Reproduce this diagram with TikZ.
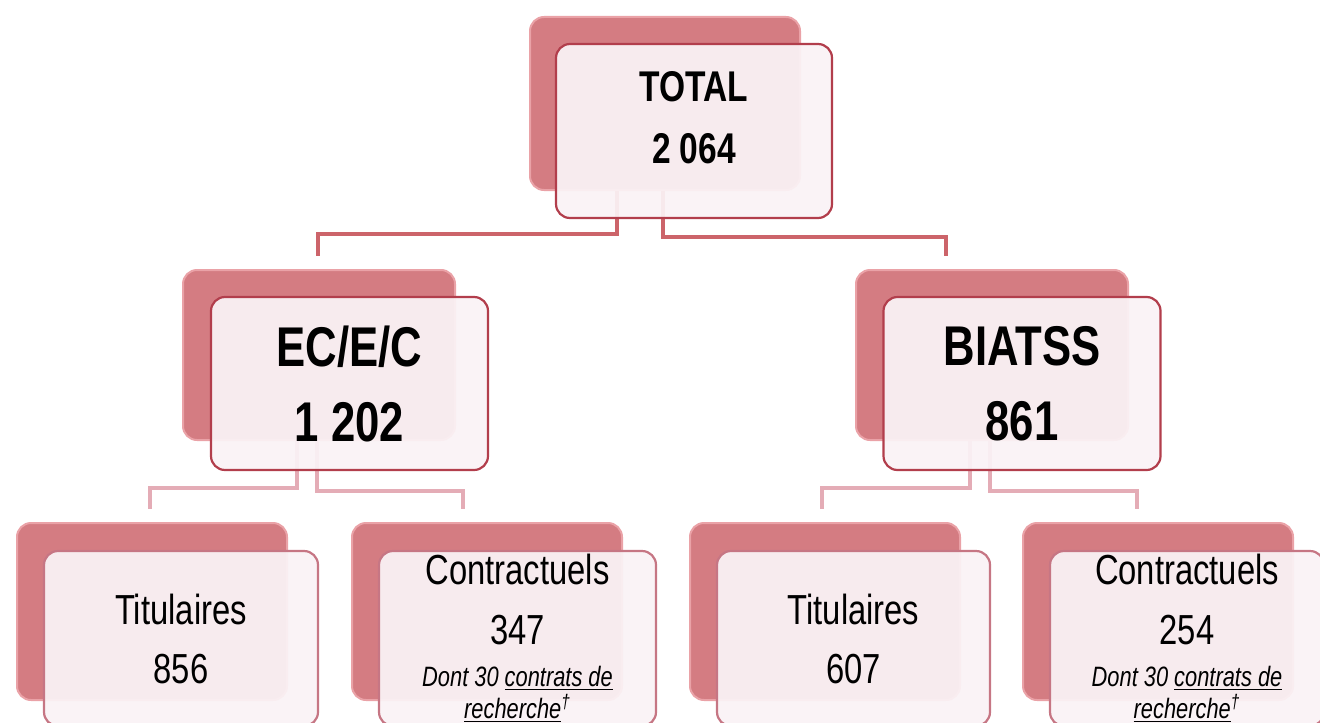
\documentclass[tikz,border=0pt]{standalone}
\usepackage{fontspec}
\setmainfont{Liberation Sans}[FakeStretch=0.78]

\definecolor{rosefill}{RGB}{212,124,130}
\definecolor{roseedge}{RGB}{234,162,167}
\definecolor{cardfill}{RGB}{250,242,245}
\definecolor{cardedge}{RGB}{178,62,76}
\definecolor{cardedgelt}{RGB}{198,118,132}
\definecolor{linkdark}{RGB}{204,100,106}
\definecolor{linklight}{RGB}{228,172,182}

\tikzset{
	backbox/.style={draw=roseedge, fill=rosefill, line width=1pt, rounded corners=7pt, inner sep=0pt},
	frontbox/.style={draw=cardedge, fill=cardfill, fill opacity=0.94, text opacity=1, line width=1.1pt, rounded corners=7pt, inner sep=0pt, align=center},
	toplink/.style={linkdark, line width=2.4pt},
	sublink/.style={linklight, line width=2.4pt},
}

\begin{document}
\begin{tikzpicture}[x=0.5pt, y=-0.5pt]
	\clip (0,0) rectangle (1320,722);

	% cartes du fond
	\node[backbox, minimum width=135pt, minimum height=86.5pt] (totalbk) at (665,103.5) {};
	\node[backbox, minimum width=136pt, minimum height=85pt] (ecbk) at (319,355) {};
	\node[backbox, minimum width=136pt, minimum height=85pt] (biatssbk) at (992,355) {};
	\node[backbox, minimum width=135pt, minimum height=88.5pt] (tit1bk) at (152,611.5) {};
	\node[backbox, minimum width=135pt, minimum height=88.5pt] (con1bk) at (487,611.5) {};
	\node[backbox, minimum width=135pt, minimum height=88.5pt] (tit2bk) at (825,611.5) {};
	\node[backbox, minimum width=135pt, minimum height=88.5pt] (con2bk) at (1158,611.5) {};

	% liaisons
	\draw[toplink] ([xshift=-24pt]totalbk.south) -- ++(0,43) -| ([xshift=-0.5pt,yshift=6.5pt]ecbk.north);
	\draw[toplink] ([xshift=-1pt]totalbk.south) -- ++(0,46) -| ([xshift=-23pt,yshift=6.5pt]biatssbk.north);
	\draw[sublink] ([xshift=-11pt]ecbk.south) -- ++(0,47) -| ([xshift=-1pt,yshift=6.5pt]tit1bk.north);
	\draw[sublink] ([xshift=-1pt]ecbk.south) -- ++(0,50) -| ([xshift=-12pt,yshift=6.5pt]con1bk.north);
	\draw[sublink] ([xshift=-11pt]biatssbk.south) -- ++(0,47) -| ([xshift=-1.5pt,yshift=6.5pt]tit2bk.north);
	\draw[sublink] ([xshift=-1pt]biatssbk.south) -- ++(0,50) -| ([xshift=-10.5pt,yshift=6.5pt]con2bk.north);

	% cartes de devant
	\node[frontbox, minimum width=138pt, minimum height=87pt] (total) at (694,131) {};
	\node[font=\fontsize{21.5}{31}\selectfont\bfseries, align=center] (totaltxt) at ([yshift=6.5pt]total.center) {TOTAL\\2 064};

	\node[frontbox, minimum width=138.5pt, minimum height=86.5pt, font=\fontsize{28}{37.5}\selectfont\bfseries] (ec) at (349.5,383.5) {EC/E/C\\1 202};
	\node[frontbox, minimum width=138.5pt, minimum height=86.5pt, font=\fontsize{28}{37.5}\selectfont\bfseries] (biatss) at (1022,383.5) {BIATSS\\861};

	\node[frontbox, draw=cardedgelt, minimum width=137pt, minimum height=87.5pt, font=\fontsize{21}{29.5}\selectfont] (tit1) at (181,638.5) {Titulaires\\856};
	\node[frontbox, draw=cardedgelt, minimum width=138.5pt, minimum height=87.5pt, font=\fontsize{21}{30}\selectfont] (con1) at (517.5,638.5)
		{Contractuels\\347\\[-9pt]{\fontsize{14}{12}\selectfont\itshape Dont 30 \underline{contrats de}}\\[-14pt]{\fontsize{14}{12}\selectfont\itshape\underline{recherche}\textsuperscript{\textdagger}}};
	\node[frontbox, draw=cardedgelt, minimum width=136.5pt, minimum height=87.5pt, font=\fontsize{21}{29.5}\selectfont] (tit2) at (853.5,638.5) {Titulaires\\607};
	\node[frontbox, draw=cardedgelt, minimum width=137pt, minimum height=87.5pt, font=\fontsize{21}{30}\selectfont] (con2) at (1187,638.5)
		{Contractuels\\254\\[-9pt]{\fontsize{14}{12}\selectfont\itshape Dont 30 \underline{contrats de}}\\[-14pt]{\fontsize{14}{12}\selectfont\itshape\underline{recherche}\textsuperscript{\textdagger}}};
\end{tikzpicture}
\end{document}
